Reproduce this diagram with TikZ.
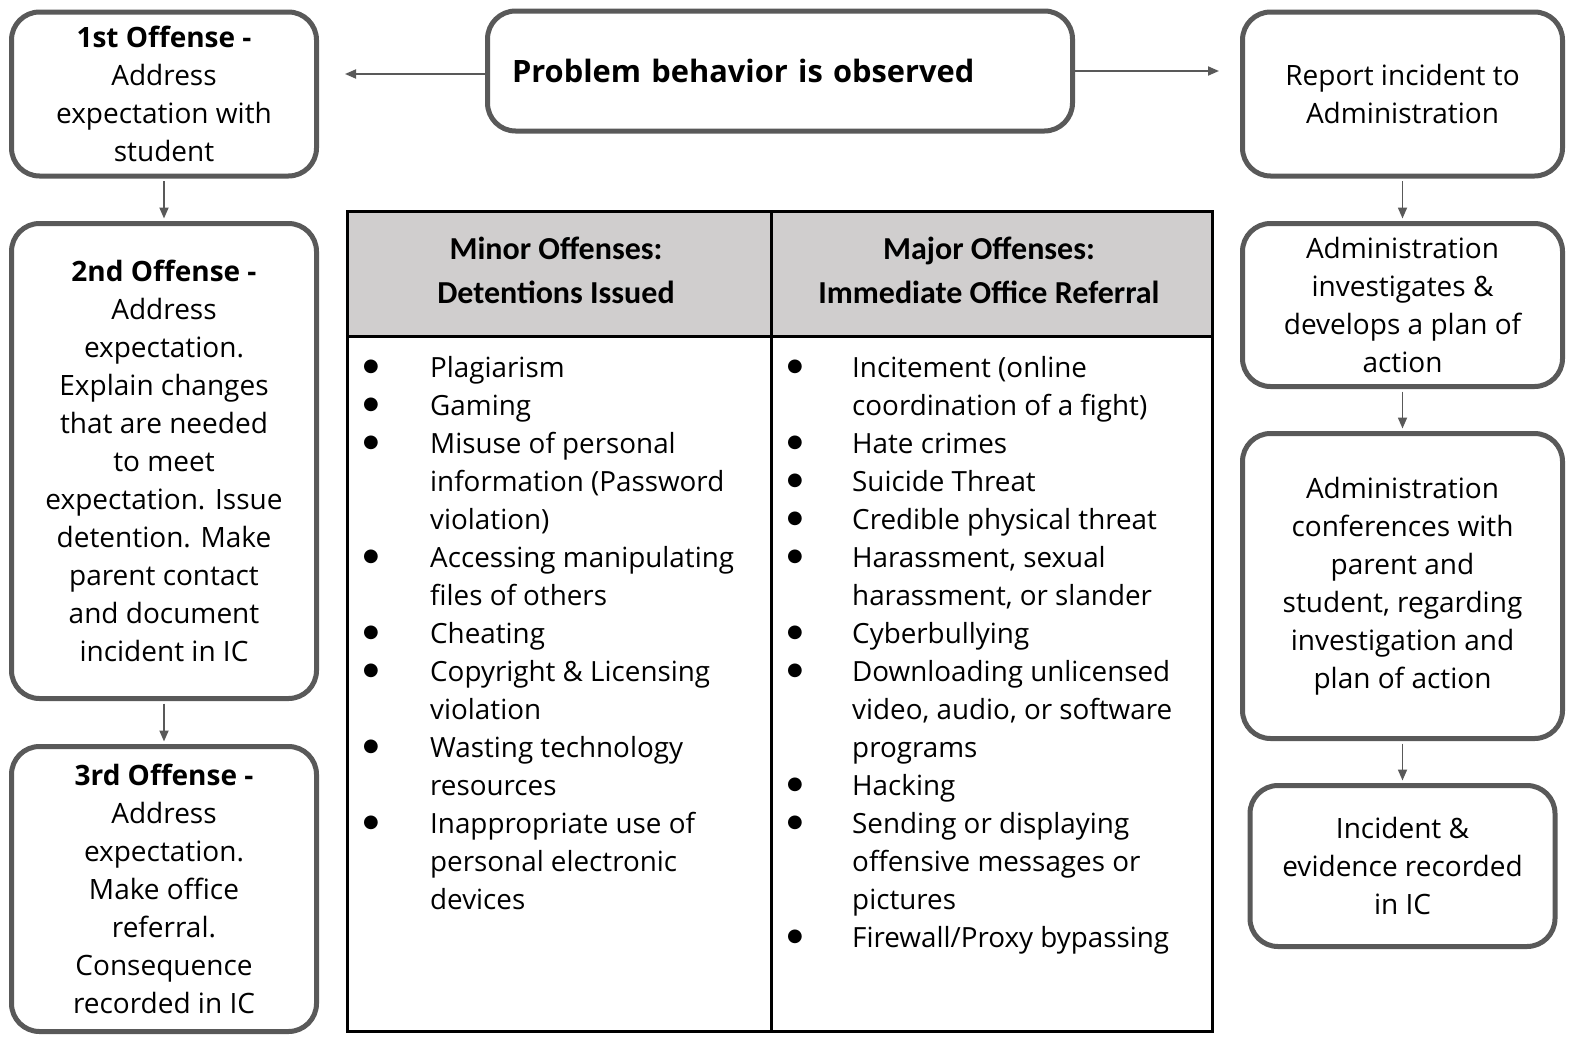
\documentclass[tikz,border=0pt]{standalone}
\usepackage{fontspec}
\setmainfont{Open Sans}
\newfontfamily\headfont{Carlito}
\newfontfamily\symfont{DejaVu Sans}
\usetikzlibrary{arrows.meta}

\definecolor{boxgray}{HTML}{595959}
\definecolor{headgray}{HTML}{D0CECE}

\tikzset{
  stepbox/.style={draw=boxgray, line width=5pt, rounded corners=28pt, fill=white,
    align=center, inner sep=0pt, font=\fontsize{28}{38}\selectfont},
  flow/.style={draw=boxgray, line width=1.8pt, -{Triangle[length=11pt,width=9pt]}},
  item/.style={anchor=mid west, inner sep=0pt, yshift=-8pt, font=\fontsize{27.8}{38}\selectfont},
  dot/.style={inner sep=0pt, font=\symfont\fontsize{18}{18}\selectfont},
  head/.style={align=center, inner sep=0pt, font=\headfont\bfseries\fontsize{32}{44}\selectfont}
}

\begin{document}
\begin{tikzpicture}[x=1pt, y=-1pt]

 \useasboundingbox (0,0) rectangle (1571,1036);

 %top row
 \node[stepbox, minimum width=585pt, minimum height=120pt, align=left, text width=536pt,
       font=\bfseries\fontsize{30.8}{38}\selectfont] (problem) at (780,71) {Problem behavior is observed};
 \coordinate (lfree) at (345,74);
 \coordinate (rfree) at (1219,71);
 \draw[flow] (problem.west |- lfree) -- (lfree);
 \draw[flow] (problem.east |- rfree) -- (rfree);

 %left column
 \def\dx{164}
 \node[stepbox, minimum width=305pt, minimum height=164pt] (first) at (\dx,94)
   {\textbf{1st Offense -}\\Address\\expectation with\\student};
 \node[stepbox, minimum width=305pt, minimum height=475pt] (second) at (\dx,461)
   {\textbf{2nd Offense -}\\Address\\expectation.\\Explain changes\\that are needed\\to meet\\expectation. Issue\\detention. Make\\parent contact\\and document\\incident in IC};
 \node[stepbox, minimum width=305pt, minimum height=285pt] (third) at (\dx,889)
   {\textbf{3rd Offense -}\\Address\\expectation.\\Make office\\referral.\\Consequence\\recorded in IC};

 \draw[flow, shorten >=2.5pt, shorten <=2.5pt] (first) -- (second);
 \draw[flow, shorten >=2.5pt, shorten <=2.5pt] (second) -- (third);

 %right column
 \def\dx{1402.5}
 \node[stepbox, minimum width=320pt, minimum height=164pt] (report) at (\dx,94)
   {Report incident to\\Administration};
 \node[stepbox, minimum width=320pt, minimum height=163pt] (invest) at (\dx,305)
   {Administration\\investigates \&\\develops a plan of\\action};
 \node[stepbox, minimum width=320pt, minimum height=305pt] (confer) at (\dx,586)
   {Administration\\conferences with\\parent and\\student, regarding\\investigation and\\plan of action};
 \node[stepbox, minimum width=305pt, minimum height=161pt] (record) at (\dx,866)
   {Incident \&\\evidence recorded\\in IC};

 \draw[flow, shorten >=2.5pt, shorten <=2.5pt] (report) -- (invest);
 \draw[flow, shorten >=2.5pt, shorten <=2.5pt] (invest) -- (confer);
 \draw[flow, shorten >=2.5pt, shorten <=2.5pt] (confer) -- (record);

 %table
 \draw[line width=3pt, fill=headgray] (347,211) rectangle (1212,336);
 \draw[line width=3pt] (347,336) rectangle (1212,1031);
 \draw[line width=3pt] (771,211) -- (771,1031);

 \node[head] (minorhead) at (556,270) {Minor Offenses:\\Detentions Issued};
 \node[head] (majorhead) at (989,270) {Major Offenses:\\Immediate Office Referral};

 %minor offenses
 \foreach \y in {367,405,443,557,633,671,747,823}
   \node[dot] (mb\y) at (371,\y) {●};
 \foreach \y/\t in {367/Plagiarism, 405/Gaming, 443/Misuse of personal,
     481/information (Password, 519/violation), 557/Accessing manipulating,
     595/files of others, 633/Cheating, 671/Copyright \& Licensing, 709/violation,
     747/Wasting technology, 785/resources, 823/Inappropriate use of,
     861/personal electronic, 899/devices}
   \node[item] (minor\y) at (430,\y) {\t};

 %major offenses
 \foreach \y in {367,443,481,519,557,633,671,785,823,937}
   \node[dot] (jb\y) at (795,\y) {●};
 \foreach \y/\t in {367/Incitement (online, 405/coordination of a fight), 443/Hate crimes,
     481/Suicide Threat, 519/Credible physical threat, 557/{Harassment, sexual},
     595/{harassment, or slander}, 633/Cyberbullying, 671/Downloading unlicensed,
     709/{video, audio, or software}, 747/programs, 785/Hacking,
     823/Sending or displaying, 861/offensive messages or, 899/pictures,
     937/{Firewall/Proxy bypassing}}
   \node[item] (major\y) at (852,\y) {\t};

\end{tikzpicture}
\end{document}
